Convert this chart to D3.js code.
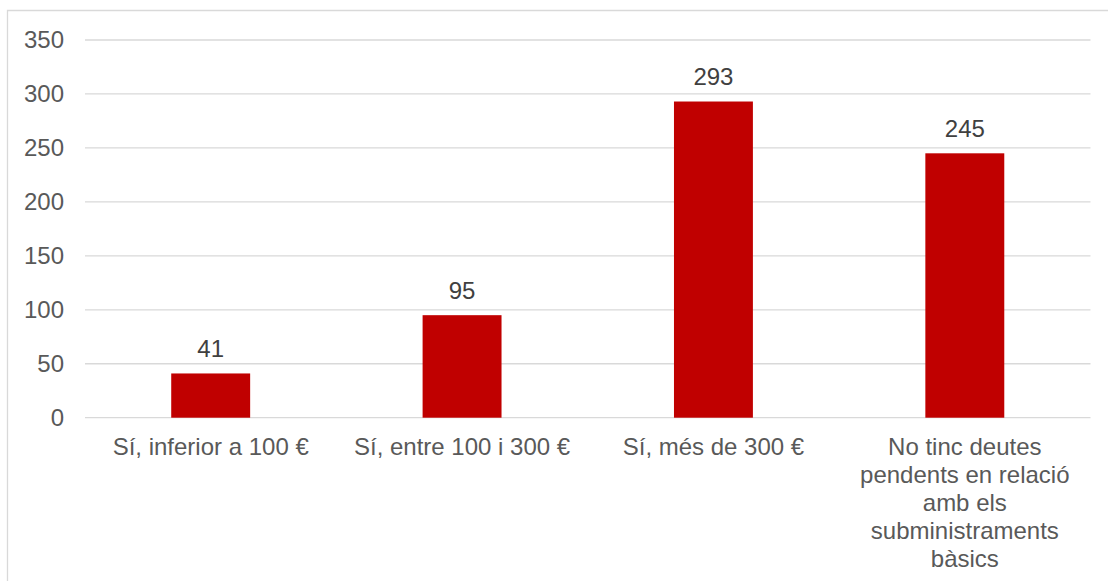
<!DOCTYPE html>
<html>
<head>
<meta charset="utf-8">
<script src="https://cdn.jsdelivr.net/npm/d3@7.9.0/dist/d3.min.js"></script>
<style>
  html, body { margin: 0; padding: 0; background: #fff; overflow: hidden; }
  svg { display: block; font-family: "Liberation Sans", Arial, sans-serif; }
</style>
</head>
<body>
<div id="chart"></div>
<script>
// dades
const categories = [
  "Sí, inferior a 100 €",
  "Sí, entre 100 i 300 €",
  "Sí, més de 300 €",
  "No tinc deutes pendents en relació amb els subministraments bàsics"
];
const values = [41, 95, 293, 245];
const yTicks = [0, 50, 100, 150, 200, 250, 300, 350];

const width = 1108;
const height = 581;
const margin = { top: 40, right: 17.5, bottom: 163.3, left: 85 };
const innerWidth = width - margin.left - margin.right;
const innerHeight = height - margin.top - margin.bottom;

const svg = d3.select("#chart")
  .append("svg")
  .attr("width", width)
  .attr("height", height);

// marc del gràfic (només es veuen la vora esquerra i la de dalt)
svg.append("path")
  .attr("d", `M7.5,${height} V10.5 H${width}`)
  .attr("fill", "none")
  .attr("stroke", "#d9d9d9")
  .attr("stroke-width", 1.3);

const g = svg.append("g")
  .attr("transform", `translate(${margin.left},${margin.top})`);

const x = d3.scaleBand().domain(categories).range([0, innerWidth]).padding(0);
const y = d3.scaleLinear().domain([0, 350]).range([innerHeight, 0]);

const barW = x.bandwidth() * 0.314;

// línies de graella
g.append("g")
  .selectAll("line")
  .data(yTicks)
  .join("line")
  .attr("x1", 0)
  .attr("x2", innerWidth)
  .attr("y1", d => y(d))
  .attr("y2", d => y(d))
  .attr("stroke", "#d9d9d9")
  .attr("stroke-width", 1.3);

// etiquetes eix Y
g.append("g")
  .selectAll("text")
  .data(yTicks)
  .join("text")
  .attr("x", -21)
  .attr("y", d => y(d))
  .attr("dy", "0.35em")
  .attr("text-anchor", "end")
  .attr("fill", "#595959")
  .attr("font-size", 24)
  .text(d => d);

// barres
g.append("g")
  .selectAll("rect")
  .data(values)
  .join("rect")
  .attr("x", (d, i) => x(categories[i]) + (x.bandwidth() - barW) / 2)
  .attr("y", d => y(d))
  .attr("width", barW)
  .attr("height", d => innerHeight - y(d))
  .attr("fill", "#c00000");

// etiquetes de dades
g.append("g")
  .selectAll("text")
  .data(values)
  .join("text")
  .attr("x", (d, i) => x(categories[i]) + x.bandwidth() / 2)
  .attr("y", d => y(d) - 16.5)
  .attr("text-anchor", "middle")
  .attr("fill", "#404040")
  .attr("font-size", 24)
  .text(d => d);

// etiquetes de categoria, amb ajust de línia
const catG = g.append("g")
  .selectAll("text")
  .data(categories)
  .join("text")
  .attr("x", d => x(d) + x.bandwidth() / 2)
  .attr("y", innerHeight + 37.5)
  .attr("text-anchor", "middle")
  .attr("fill", "#595959")
  .attr("font-size", 24);

catG.each(function (d) {
  const text = d3.select(this);
  const words = d.split(" ");
  const maxW = 232;
  const lineH = 28;
  let line = [];
  let tspan = text.append("tspan").attr("x", text.attr("x")).attr("dy", 0);
  for (const w of words) {
    line.push(w);
    tspan.text(line.join(" "));
    if (tspan.node().getComputedTextLength() > maxW && line.length > 1) {
      line.pop();
      tspan.text(line.join(" "));
      line = [w];
      tspan = text.append("tspan")
        .attr("x", text.attr("x"))
        .attr("dy", lineH)
        .text(w);
    }
  }
});
</script>
</body>
</html>
